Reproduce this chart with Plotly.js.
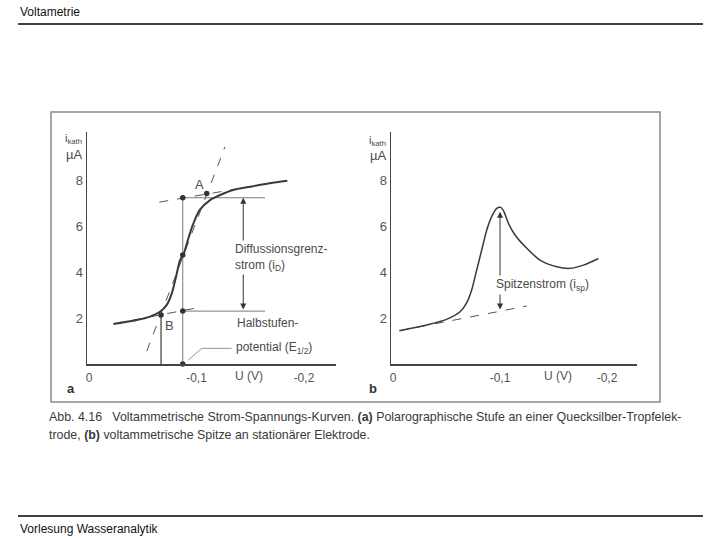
<!DOCTYPE html>
<html>
<head>
<meta charset="utf-8">
<script src="https://cdn.plot.ly/plotly-3.0.1.min.js"></script>
<style>html,body{margin:0;padding:0;background:#fff;}#chart{width:720px;height:540px;}</style>
</head>
<body>
<div id="chart"></div>
<script>
// ---------- data (U in V, i in µA) ----------
const tickVals = [0, -0.1, -0.2];
const tickText = ["0", "-0,1", "-0,2"];
const yTickVals = [2, 4, 6, 8];
const yTickText = ["2", "4", "6", "8"];

// panel a: polarographic step
const uStep = [-0.0226,-0.0444,-0.0567,-0.066,-0.0723,-0.077,-0.081,-0.0847,-0.0877,-0.0924,-0.097,-0.103,-0.1126,-0.122,-0.134,-0.150,-0.168,-0.1845];
const iStep = [1.74,1.91,2.06,2.27,2.57,3.07,3.8,4.52,4.74,5.46,6.1,6.7,7.13,7.35,7.57,7.71,7.86,7.97];
const uUpperTangent = [-0.0654, -0.1498];
const iUpperTangent = [7.04, 7.71];
const uLowerTangent = [-0.040, -0.106];
const iLowerTangent = [1.90, 2.49];
const uSteepTangent = [-0.0537, -0.1265];
const iSteepTangent = [0.56, 9.45];
const uHalfWave = -0.0872;
const iLimitTop = 7.23;
const iLimitBottom = 2.30;
const uLevelEnd = -0.1637;
const uPointB = -0.067;
const iPointB = 2.13;
const uPointA = -0.1095;
const iPointA = 7.42;
const iHalfWave = 4.74;
const uDiffArrow = -0.1435;
const uLeader = [-0.0924, -0.1048, -0.1327];
const iLeader = [0.17, 0.68, 0.68];

// panel b: voltammetric peak
const uPeak = [-0.006,-0.0315,-0.050,-0.0626,-0.0689,-0.0735,-0.0782,-0.0829,-0.0876,-0.0922,-0.0969,-0.1007,-0.1037,-0.1078,-0.114,-0.125,-0.1374,-0.153,-0.1654,-0.178,-0.192];
const iPeak = [1.45,1.70,1.94,2.27,2.67,3.22,4.09,4.96,5.83,6.41,6.77,6.81,6.62,6.12,5.61,5.03,4.52,4.23,4.16,4.30,4.59];
const uBaseline = [-0.006, -0.125];
const iBaseline = [1.45, 2.52];
const uPeakArrow = -0.100;
const iPeakArrowBottom = 2.30;
const iPeakArrowTop = 6.62;

// ---------- styling ----------
const FONT = "Liberation Sans Narrow, Liberation Sans, Arial, sans-serif";
const TXT = "#4a4a4a";
const CURVE = "#3a3a3a";
const GREY = "#7a7a7a";

const W = 720, H = 540;
const px = x => x / W;
const py = y => 1 - y / H;

const traces = [
  // panel a
  {x: [uHalfWave, uLevelEnd], y: [iLimitTop, iLimitTop], xaxis: "x", yaxis: "y", mode: "lines", line: {color: GREY, width: 1}},
  {x: [uHalfWave, uLevelEnd], y: [iLimitBottom, iLimitBottom], xaxis: "x", yaxis: "y", mode: "lines", line: {color: GREY, width: 1}},
  {x: [uHalfWave, uHalfWave], y: [0, iLimitTop], xaxis: "x", yaxis: "y", mode: "lines", line: {color: GREY, width: 1}},
  {x: [uPointB, uPointB], y: [0, iPointB], xaxis: "x", yaxis: "y", mode: "lines", line: {color: CURVE, width: 1.2}},
  {x: uUpperTangent, y: iUpperTangent, xaxis: "x", yaxis: "y", mode: "lines", line: {color: "#555", width: 1, dash: "dash"}},
  {x: uLowerTangent, y: iLowerTangent, xaxis: "x", yaxis: "y", mode: "lines", line: {color: "#555", width: 1, dash: "dash"}},
  {x: uSteepTangent, y: iSteepTangent, xaxis: "x", yaxis: "y", mode: "lines", line: {color: "#555", width: 1, dash: "dash"}},
  {x: uLeader, y: iLeader, xaxis: "x", yaxis: "y", mode: "lines", line: {color: GREY, width: 0.8}},
  {x: uStep, y: iStep, xaxis: "x", yaxis: "y", mode: "lines", line: {color: CURVE, width: 2, shape: "spline", smoothing: 0.8}},
  {x: [uHalfWave, uHalfWave, uHalfWave, uHalfWave, uPointA, uPointB],
   y: [iLimitTop, iHalfWave, iLimitBottom, 0, iPointA, iPointB],
   xaxis: "x", yaxis: "y", mode: "markers", marker: {color: "#333", size: 5.5}, cliponaxis: false},
  // panel b
  {x: uBaseline, y: iBaseline, xaxis: "x2", yaxis: "y2", mode: "lines", line: {color: "#555", width: 1, dash: "dash"}},
  {x: uPeak, y: iPeak, xaxis: "x2", yaxis: "y2", mode: "lines", line: {color: CURVE, width: 1.5, shape: "spline", smoothing: 0.8}}
];

function xAxis(d0, d1, r0, r1, anchor) {
  return {domain: [px(d0), px(d1)], range: [r0, r1], anchor: anchor,
    showline: true, linecolor: "#444", linewidth: 1.5, showgrid: false, zeroline: false,
    ticks: "", tickvals: tickVals, ticktext: tickText, tickfont: {family: FONT, size: 12, color: "#555"},
    ticklabelstandoff: 2, fixedrange: true};
}
function yAxis(anchor) {
  return {domain: [py(364), py(132)], range: [0, 10.09], anchor: anchor,
    showline: true, linecolor: "#444", linewidth: 1.5, showgrid: false, zeroline: false,
    ticks: "", tickvals: yTickVals, ticktext: yTickText, tickfont: {family: FONT, size: 13, color: "#555"},
    ticklabelstandoff: 0, fixedrange: true};
}

function paperText(text, x, y, opts) {
  return Object.assign({text: text, xref: "paper", yref: "paper", x: px(x), y: py(y), showarrow: false,
    xanchor: "left", yanchor: "middle", font: {family: FONT, size: 12, color: TXT}}, opts || {});
}
function dataText(text, xr, yr, x, y, opts) {
  return Object.assign({text: text, xref: xr, yref: yr, x: x, y: y, showarrow: false,
    xanchor: "left", yanchor: "middle", font: {family: FONT, size: 12, color: TXT}}, opts || {});
}

const annotations = [
  // header / footer
  paperText("Voltametrie", 18, 12, {font: {family: "Liberation Sans, Arial, sans-serif", size: 12, color: "#111"}}),
  paperText("Vorlesung Wasseranalytik", 18, 529, {font: {family: "Liberation Sans, Arial, sans-serif", size: 12, color: "#111"}}),
  // caption
  paperText("Abb. 4.16\u00a0\u00a0\u00a0Voltammetrische Strom-Spannungs-Kurven. <b>(a)</b> Polarographische Stufe an einer Quecksilber-Tropfelek-", 47, 417, {font: {family: FONT, size: 12.4, color: "#3a3a3a"}}),
  paperText("trode, <b>(b)</b> voltammetrische Spitze an stationärer Elektrode.", 47, 435, {font: {family: FONT, size: 12.4, color: "#3a3a3a"}}),
  // axis captions panel a
  paperText("i<sub>kath</sub>", 84, 139, {xanchor: "right", font: {family: FONT, size: 11, color: TXT}}),
  paperText("µA", 84, 155, {xanchor: "right", font: {family: FONT, size: 13, color: TXT}}),
  paperText("U (V)", 249, 376, {xanchor: "center", font: {family: FONT, size: 12, color: "#555"}}),
  paperText("<b>a</b>", 71, 388, {xanchor: "center", font: {family: FONT, size: 13, color: "#333"}}),
  // axis captions panel b
  paperText("i<sub>kath</sub>", 388, 141, {xanchor: "right", font: {family: FONT, size: 11, color: TXT}}),
  paperText("µA", 388, 156, {xanchor: "right", font: {family: FONT, size: 13, color: TXT}}),
  paperText("U (V)", 558, 376, {xanchor: "center", font: {family: FONT, size: 12, color: "#555"}}),
  paperText("<b>b</b>", 373, 388, {xanchor: "center", font: {family: FONT, size: 13, color: "#333"}}),
  // panel a labels
  dataText("A", "x", "y", uPointA, iPointA, {xanchor: "right", yanchor: "bottom", xshift: -1, yshift: -1, font: {family: FONT, size: 13, color: TXT}}),
  dataText("B", "x", "y", uPointB, iPointB, {xanchor: "left", yanchor: "top", xshift: 2, yshift: -1, font: {family: FONT, size: 13, color: TXT}}),
  {x: uDiffArrow, y: iLimitTop, ax: uDiffArrow, ay: iLimitBottom, xref: "x", yref: "y", axref: "x", ayref: "y",
   text: "", showarrow: true, arrowhead: 2, arrowside: "end+start", arrowsize: 1.2, arrowwidth: 1, arrowcolor: "#333"},
  dataText("Diffussionsgrenz-<br>strom (i<sub>D</sub>)", "x", "y", -0.134, 4.65, {align: "left", bgcolor: "#fff"}),
  dataText("Halbstufen-", "x", "y", -0.1358, 1.78),
  dataText("potential (E<sub>1/2</sub>)", "x", "y", -0.1345, 0.68),
  // panel b labels
  {x: uPeakArrow, y: iPeakArrowTop, ax: uPeakArrow, ay: iPeakArrowBottom, xref: "x2", yref: "y2", axref: "x2", ayref: "y2",
   text: "", showarrow: true, arrowhead: 2, arrowside: "end+start", arrowsize: 1.2, arrowwidth: 1, arrowcolor: "#333"},
  dataText("Spitzenstrom (i<sub>sp</sub>)", "x2", "y2", -0.0944, 3.43, {bgcolor: "#fff"})
];

const shapes = [
  {type: "line", xref: "paper", yref: "paper", x0: px(18), x1: px(703), y0: py(24), y1: py(24), line: {color: "#000", width: 1.3}},
  {type: "line", xref: "paper", yref: "paper", x0: px(18), x1: px(703), y0: py(516), y1: py(516), line: {color: "#000", width: 1.3}},
  {type: "rect", xref: "paper", yref: "paper", x0: px(51), x1: px(660), y0: py(402), y1: py(112), line: {color: "#8a8a8a", width: 1.5}}
];

const layout = {
  width: W, height: H, margin: {l: 0, r: 0, t: 0, b: 0},
  paper_bgcolor: "#fff", plot_bgcolor: "rgba(0,0,0,0)", showlegend: false,
  xaxis: xAxis(87, 336, 0.0019, -0.2298, "y"),
  yaxis: yAxis("x"),
  xaxis2: xAxis(391, 637, 0.0019, -0.228, "y2"),
  yaxis2: yAxis("x2"),
  annotations: annotations, shapes: shapes
};

Plotly.newPlot("chart", traces, layout, {displayModeBar: false, staticPlot: true});
</script>
</body>
</html>
